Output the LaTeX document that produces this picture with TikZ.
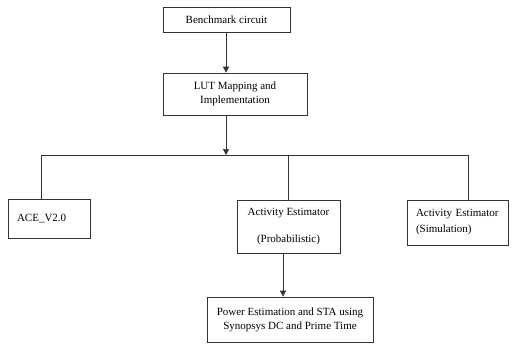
\documentclass[tikz,border=0pt]{standalone}
\usepackage{fontspec}
\setmainfont{Liberation Serif}
\usepackage{tikz}
\usetikzlibrary{arrows.meta, positioning}

\begin{document}
\begin{tikzpicture}[
      x=1pt, y=-1pt,
      stage/.style={draw=black!80, line width=0.7pt, align=center, inner sep=0pt,
        font=\fontsize{11}{14}\selectfont},
      toolbox/.style={draw=black!80, line width=0.7pt, align=left, inner ysep=0pt,
        inner xsep=9pt, font=\fontsize{11}{14}\selectfont},
      arr/.style={-{Triangle[length=6pt, width=6pt]}, line width=0.7pt, black!80},
      link/.style={line width=0.7pt, black!80}
    ]
      \useasboundingbox (0,0) rectangle (514,343);
      \node[stage, minimum width=127pt, minimum height=25pt] (bench) at (226.5,19.5) {Benchmark circuit};
      \node[stage, minimum width=144pt, minimum height=42pt] (lut) at (235,94) {LUT Mapping and\\Implementation};
      \coordinate (split) at (226,155);
      \coordinate (lft) at (41,155);
      \coordinate (rgt) at (468,155);
      \coordinate (drop) at (283,0);
      \node[toolbox, text width=64pt, minimum height=39pt] (ace) at (49,218.5) {ACE\_V2.0};
      \node[stage, minimum width=103pt, minimum height=53pt] (prob) at (288.5,226.5) {Activity Estimator\\[13pt](Probabilistic)};
      \node[toolbox, text width=83pt, minimum height=45pt] (sim) at (457.5,222.5) {Activity Estimator\\[2pt](Simulation)};
      \node[stage, minimum width=166pt, minimum height=45pt] (power) at (290,319.5) {Power Estimation and STA using\\Synopsys DC and Prime Time};
      \draw[arr] (bench.south -| split) -- (lut.north -| split);
      \draw[arr] (lut.south -| split) -- (split);
      \draw[link] (ace.north -| lft) -- (lft) -- (rgt) -- (sim.north -| rgt);
      \draw[link] (prob.north) -- (prob.north |- split);
      \draw[arr] (prob.south -| drop) -- (power.north -| drop);
    \end{tikzpicture}
\end{document}
